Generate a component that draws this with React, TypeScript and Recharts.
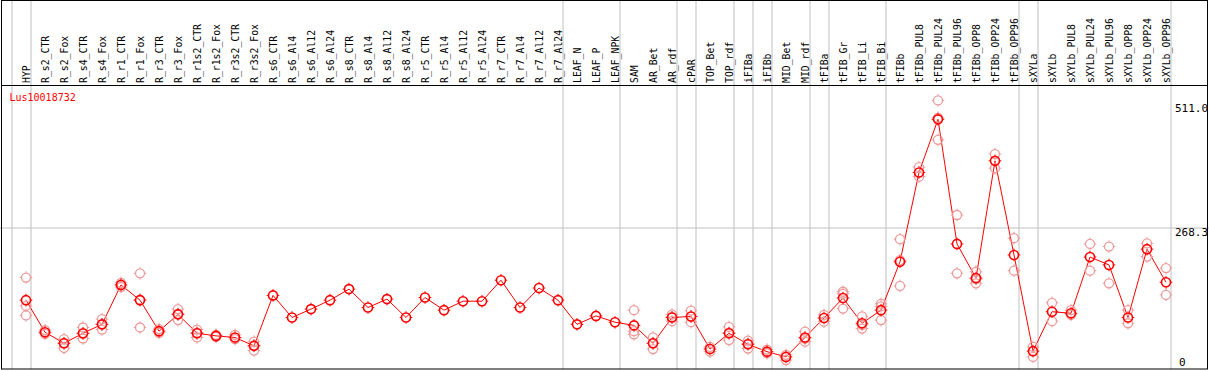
import {
  ComposedChart,
  Line,
  Scatter,
  XAxis,
  YAxis,
  ReferenceLine,
} from "recharts";

// Sample names (column headers)
const categories = [
  "HYP", "R_s2_CTR", "R_s2_Fox", "R_s4_CTR", "R_s4_Fox", "R_r1_CTR", "R_r1_Fox",
  "R_r3_CTR", "R_r3_Fox", "R_r1s2_CTR", "R_r1s2_Fox", "R_r3s2_CTR", "R_r3s2_Fox",
  "R_s6_CTR", "R_s6_Al4", "R_s6_Al12", "R_s6_Al24", "R_s8_CTR", "R_s8_Al4",
  "R_s8_Al12", "R_s8_Al24", "R_r5_CTR", "R_r5_Al4", "R_r5_Al12", "R_r5_Al24",
  "R_r7_CTR", "R_r7_Al4", "R_r7_Al12", "R_r7_Al24", "LEAF_N", "LEAF_P", "LEAF_NPK",
  "SAM", "AR_Bet", "AR_rdf", "cPAR", "TOP_Bet", "TOP_rdf", "iFIBa", "iFIBb",
  "MID_Bet", "MID_rdf", "tFIBa", "tFIB_Gr", "tFIB_Li", "tFIB_Bi", "tFIBb",
  "tFIBb_PUL8", "tFIBb_PUL24", "tFIBb_PUL96", "tFIBb_OPP8", "tFIBb_OPP24",
  "tFIBb_OPP96", "sXYLa", "sXYLb", "sXYLb_PUL8", "sXYLb_PUL24", "sXYLb_PUL96",
  "sXYLb_OPP8", "sXYLb_OPP24", "sXYLb_OPP96",
];

// Mean expression per sample
const means = [
  131, 70, 49, 68, 85, 160, 131, 72, 104, 68, 63, 60, 44,
  140, 98, 114, 131, 152, 117, 133, 98, 136, 112, 129, 129, 169, 117, 154, 131,
  85, 101, 89, 83, 49, 98, 100, 38, 68, 47, 33, 23, 60, 97, 135, 87, 112,
  204, 374, 475, 238, 173, 396, 217, 34, 109, 106, 213, 198, 98, 228, 165,
];

// Individual replicates per sample
const replicates: number[][] = [
  [174, 120, 102], [74, 67], [57, 40, 49], [79, 58, 67], [95, 75, 85],
  [164, 156], [182, 79, 132], [76, 69], [114, 93, 105], [75, 60, 69],
  [65, 61], [65, 57], [52, 35, 45],
  [], [], [], [], [], [], [], [], [], [], [], [], [], [], [], [],
  [], [], [],
  [112, 72, 66], [60, 38, 49], [104, 91, 99], [111, 89, 100], [33, 42],
  [80, 55, 69], [54, 39, 48], [37, 30], [17, 27], [71, 52, 58], [103, 90],
  [147, 143, 115], [100, 77, 84], [124, 93, 119], [247, 158, 207],
  [384, 366], [511, 436, 478], [293, 182], [185, 163, 171], [409, 382],
  [249, 187], [42, 23], [126, 91], [112, 103], [238, 187], [233, 163],
  [112, 87], [239, 214], [192, 141],
];

// last sample of each tissue group (gridline drawn just after it)
const groupEnds = [-1, 0, 28, 31, 34, 35, 37, 38, 39, 41, 42, 45, 52, 53, 60];

const MAX_VALUE = 511.0;
const yTicks = [0, MAX_VALUE * 1.05 / 2, MAX_VALUE];

const W = 1209;
const H = 370;
// scale top (max*1.05) sits at y=87, zero at y=369; extend domain to top of svg
const DOMAIN_TOP = (MAX_VALUE * 1.05 * 369) / 282;
const STEP = 19;
const FIRST_X = 26;

const lineData = categories.map((name, i) => ({ x: i, name, mean: means[i] }));
const repData = replicates.flatMap((r, i) => r.map((v) => ({ x: i, value: v })));

const MONO = "'DejaVu Sans Mono', monospace";

function Marker({ cx, cy, color, sw }: { cx: number; cy: number; color: string; sw: number }) {
  if (cx == null || cy == null) return null;
  return (
    <g stroke={color} fill="none" strokeWidth={sw}>
      <circle cx={cx} cy={cy} r={4.5} />
      <line x1={cx} y1={cy - 4.8} x2={cx} y2={cy - 6.3} strokeWidth={1} />
      <line x1={cx} y1={cy + 4.8} x2={cx} y2={cy + 6.3} strokeWidth={1} />
      <line x1={cx - 4.8} y1={cy} x2={cx - 6.3} y2={cy} strokeWidth={1} />
      <line x1={cx + 4.8} y1={cy} x2={cx + 6.3} y2={cy} strokeWidth={1} />
    </g>
  );
}

function SampleTick(props: any) {
  const { x, payload } = props;
  const label = categories[payload.value];
  if (label === undefined) return null;
  const tx = x + 3.5;
  const ty = 83;
  return (
    <text
      x={tx}
      y={ty}
      transform={`rotate(-90 ${tx} ${ty})`}
      textAnchor="start"
      fontFamily={MONO}
      fontSize={9.8}
      fill="#000"
    >
      {label}
    </text>
  );
}

const yLabelPos = [
  { x: 1179, dy: -3.5 },
  { x: 1175, dy: 8 },
  { x: 1175, dy: 11.6 },
];

function ValueTick(props: any) {
  const { y, payload, index } = props;
  const pos = yLabelPos[index] || { x: 1176, dy: 4 };
  const v = payload.value;
  return (
    <text x={pos.x} y={y + pos.dy} fontFamily={MONO} fontSize={11} fill="#000">
      {v === 0 ? "0" : v.toFixed(1)}
    </text>
  );
}

export default function App() {
  return (
    <div style={{ position: "absolute", left: 0, top: 0, width: W, height: H, background: "#fff" }}>
      <ComposedChart
        width={W}
        height={H}
        data={lineData}
        margin={{ top: -1, right: -1, bottom: 1, left: 0 }}
      >
        <XAxis
          xAxisId={0}
          dataKey="x"
          type="number"
          orientation="top"
          domain={[-FIRST_X / STEP, (W - FIRST_X) / STEP]}
          allowDataOverflow
          ticks={categories.map((_, i) => i)}
          interval={0}
          height={1}
          axisLine={false}
          tickLine={false}
          tick={SampleTick}
        />
        <YAxis
          yAxisId={0}
          type="number"
          orientation="right"
          domain={[0, DOMAIN_TOP]}
          allowDataOverflow
          ticks={yTicks}
          interval={0}
          width={1}
          axisLine={false}
          tickLine={false}
          tick={ValueTick}
        />
        {groupEnds.map((g) => (
          <ReferenceLine
            key={`g${g}`}
            x={g + 5 / STEP}
            stroke="#c0c0c0"
            strokeWidth={1}
            ifOverflow="visible"
          />
        ))}
        <ReferenceLine y={yTicks[1]} stroke="#c0c0c0" strokeWidth={1} />
        <Scatter
          data={repData}
          dataKey="value"
          isAnimationActive={false}
          shape={(p: any) => <Marker cx={p.cx} cy={p.cy} color="#ee9a9a" sw={1.3} />}
        />
        <Line
          type="linear"
          dataKey="mean"
          stroke="#ff0000"
          strokeWidth={1}
          isAnimationActive={false}
          dot={(p: any) => <Marker key={`m${p.index}`} cx={p.cx} cy={p.cy} color="#ff0000" sw={1.6} />}
          activeDot={false}
        />
      </ComposedChart>
      <svg
        width={W}
        height={H}
        style={{ position: "absolute", left: 0, top: 0, pointerEvents: "none" }}
      >
        <rect x={1.5} y={0.5} width={1206} height={368.5} fill="none" stroke="#000" strokeWidth={1} />
        <line x1={1} y1={85.5} x2={1208} y2={85.5} stroke="#000" strokeWidth={1} />
        <text x={9.5} y={101} fontFamily={MONO} fontSize={10} fill="#ff0000">
          Lus10018732
        </text>
      </svg>
    </div>
  );
}
